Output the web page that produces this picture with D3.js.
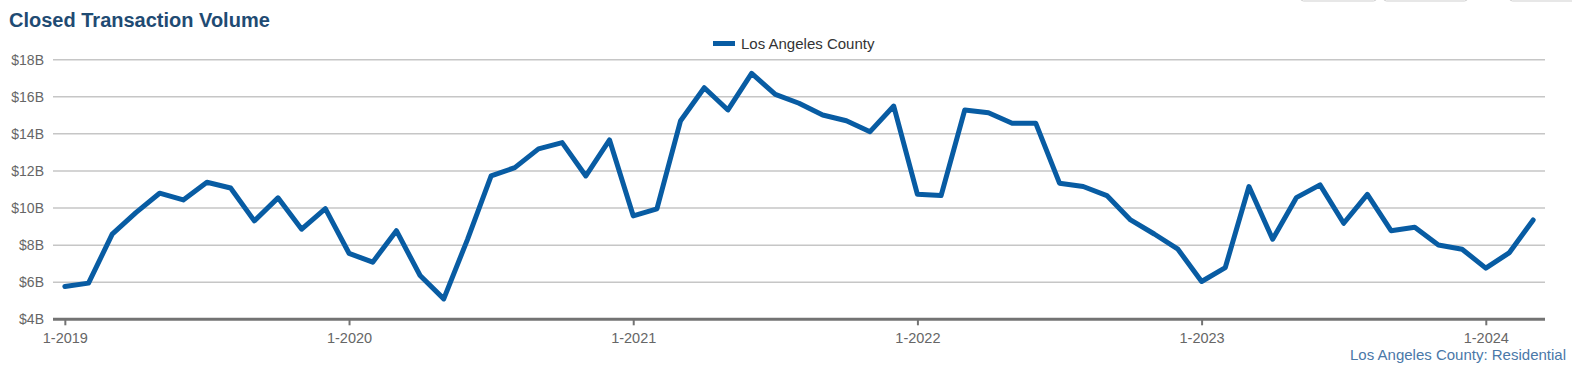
<!DOCTYPE html>
<html>
<head>
<meta charset="utf-8">
<script src="https://cdn.jsdelivr.net/npm/d3@7"></script>
<style>
  body { margin: 0; background: #fff; font-family: "Liberation Sans", Arial, sans-serif; }
  .grid-line { stroke: #c6c6c6; stroke-width: 1.5; }
  .axis text { font-family: "Liberation Sans", Arial, sans-serif; font-size: 14px; fill: #666; }
</style>
</head>
<body>
<svg id="chart"></svg>
<script>
// Month categories
var months = [
  "1-2019","2-2019","3-2019","4-2019","5-2019","6-2019","7-2019","8-2019","9-2019","10-2019","11-2019","12-2019",
  "1-2020","2-2020","3-2020","4-2020","5-2020","6-2020","7-2020","8-2020","9-2020","10-2020","11-2020","12-2020",
  "1-2021","2-2021","3-2021","4-2021","5-2021","6-2021","7-2021","8-2021","9-2021","10-2021","11-2021","12-2021",
  "1-2022","2-2022","3-2022","4-2022","5-2022","6-2022","7-2022","8-2022","9-2022","10-2022","11-2022","12-2022",
  "1-2023","2-2023","3-2023","4-2023","5-2023","6-2023","7-2023","8-2023","9-2023","10-2023","11-2023","12-2023",
  "1-2024","2-2024","3-2024"
];

// Closed volume, billions of dollars
var volume = [
  5.77, 5.95, 8.59, 9.75, 10.80, 10.44, 11.39, 11.08, 9.31, 10.55, 8.86, 9.97,
  7.56, 7.08, 8.78, 6.36, 5.10, 8.30, 11.73, 12.18, 13.19, 13.53, 11.73, 13.67,
  9.58, 9.95, 14.71, 16.49, 15.29, 17.26, 16.13, 15.65, 15.02, 14.71, 14.12, 15.50,
  10.74, 10.67, 15.29, 15.14, 14.57, 14.57, 11.34, 11.16, 10.67, 9.36, 8.60, 7.78,
  6.04, 6.79, 11.16, 8.32, 10.56, 11.25, 9.18, 10.74, 8.78, 8.96, 8.01, 7.78,
  6.76, 7.60, 9.36
];

var xTicks = ["1-2019", "1-2020", "1-2021", "1-2022", "1-2023", "1-2024"];
var yTicks = [4, 6, 8, 10, 12, 14, 16, 18];

// SVG size params
var width = 1572;
var height = 366;
var plot = {left: 53, right: 1545, top: 59.7, bottom: 319.3};

var svg = d3.select("#chart")
    .attr("width", width)
    .attr("height", height);

// Set scaling functions
var x = d3.scalePoint()
          .domain(months)
          .range([plot.left, plot.right])
          .padding(0.5);

var y = d3.scaleLinear()
          .domain([4, 18])
          .range([plot.bottom, plot.top]);

// Cut-off buttons at the top right
svg.selectAll(".btn")
  .data([[1300, 76], [1383, 84], [1509, 80]])
  .enter().append("rect")
    .attr("x", d => d[0] + 0.5)
    .attr("y", -30)
    .attr("width", d => d[1])
    .attr("height", 31)
    .attr("rx", 3)
    .attr("fill", "#fff")
    .attr("stroke", "#cfcfcf");

// Title
svg.append("text")
    .attr("x", 9)
    .attr("y", 26.5)
    .attr("font-size", "20px")
    .attr("font-weight", "bold")
    .attr("fill", "#1f4b73")
    .text("Closed Transaction Volume");

// Legend
svg.append("line")
    .attr("x1", 713).attr("x2", 735)
    .attr("y1", 43.5).attr("y2", 43.5)
    .attr("stroke", "#085ca3")
    .attr("stroke-width", 5);

svg.append("text")
    .attr("x", 741)
    .attr("y", 49)
    .attr("font-size", "15px")
    .attr("fill", "#333")
    .text("Los Angeles County");

// Horizontal grid lines
svg.selectAll(".grid-line")
  .data(yTicks.filter(d => d > 4))
  .enter().append("line")
    .attr("class", "grid-line")
    .attr("x1", plot.left)
    .attr("x2", plot.right)
    .attr("y1", d => y(d))
    .attr("y2", d => y(d));

// Y axis labels
var yAxis = d3.axisLeft(y)
    .tickValues(yTicks)
    .tickSize(0)
    .tickPadding(9)
    .tickFormat(d => "$" + d + "B");

svg.append("g")
    .attr("class", "axis")
    .attr("transform", "translate(" + plot.left + ",0)")
    .call(yAxis)
    .call(g => g.select(".domain").remove());

// X axis
var xAxis = d3.axisBottom(x)
    .tickValues(xTicks)
    .tickSize(6)
    .tickSizeOuter(0)
    .tickPadding(7);

var gx = svg.append("g")
    .attr("class", "axis")
    .attr("transform", "translate(0," + plot.bottom + ")")
    .call(xAxis);

gx.select(".domain")
    .attr("stroke", "#737373")
    .attr("stroke-width", 3)
    .attr("d", "M" + plot.left + ",0H" + plot.right);

gx.selectAll(".tick line")
    .attr("stroke", "#737373")
    .attr("stroke-width", 2);

gx.selectAll(".tick text")
    .style("font-size", "14.5px");

// Series line
var line = d3.line()
    .x((d, i) => x(months[i]))
    .y(d => y(d));

svg.append("path")
    .datum(volume)
    .attr("fill", "none")
    .attr("stroke", "#085ca3")
    .attr("stroke-width", 5)
    .attr("stroke-linejoin", "round")
    .attr("stroke-linecap", "round")
    .attr("d", line);

// Source note
svg.append("text")
    .attr("x", 1566)
    .attr("y", 360)
    .attr("text-anchor", "end")
    .attr("font-size", "15px")
    .attr("fill", "#4a78a8")
    .text("Los Angeles County: Residential");
</script>
</body>
</html>
